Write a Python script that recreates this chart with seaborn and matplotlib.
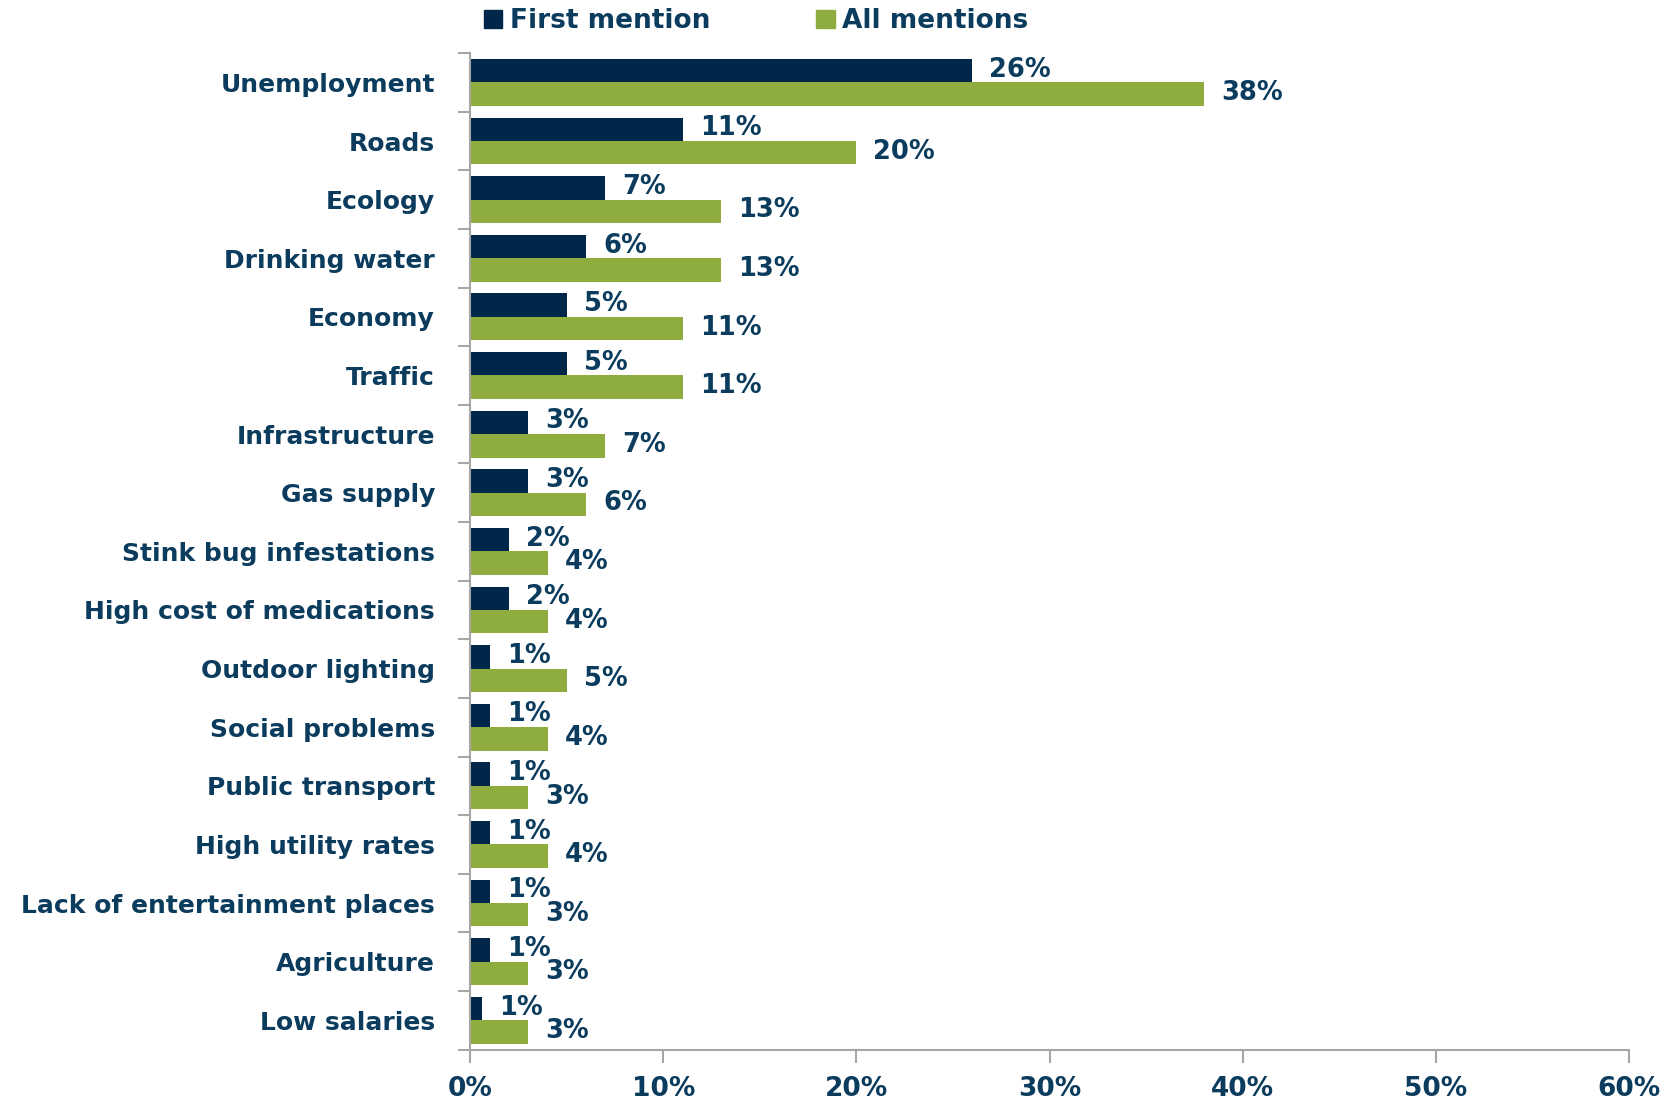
import numpy as np
import pandas as pd
import matplotlib.pyplot as plt
import seaborn as sns
from matplotlib.ticker import FixedLocator, PercentFormatter

categories = ["Unemployment", "Roads", "Ecology", "Drinking water", "Economy",
              "Traffic", "Infrastructure", "Gas supply", "Stink bug infestations",
              "High cost of medications", "Outdoor lighting", "Social problems",
              "Public transport", "High utility rates", "Lack of entertainment places",
              "Agriculture", "Low salaries"]
first_mention = [26, 11, 7, 6, 5, 5, 3, 3, 2, 2, 1, 1, 1, 1, 1, 1, 0.6]
all_mentions = [38, 20, 13, 13, 11, 11, 7, 6, 4, 4, 5, 4, 3, 4, 3, 3, 3]
series = ["First mention", "All mentions"]

TEXT = "#0B3C5D"
GREY = "#A6A6A6"
colors = {"First mention": "#002649", "All mentions": "#8FAD3F"}

df = pd.DataFrame({
    "issue": categories * 2,
    "series": [series[0]] * len(categories) + [series[1]] * len(categories),
    "value": first_mention + all_mentions,
})

sns.set_style("white")
plt.rcParams['font.family'] = ['DejaVu Sans']

fig = plt.figure(figsize=(16.62, 11.06), dpi=100)
ax = fig.add_axes([0.283, 0.051, 0.697, 0.901])

sns.barplot(data=df, y="issue", x="value", hue="series", palette=colors,
            order=categories, hue_order=series, width=0.8, orient="h",
            saturation=1, linewidth=0, ax=ax, legend=False)

# value labels
for cont in ax.containers:
    for bar in cont:
        w = bar.get_width()
        ax.annotate(f"{w:.0f}%", (w, bar.get_y() + bar.get_height() / 2),
                    xytext=(17, 1), textcoords="offset pixels",
                    ha="left", va="center", fontsize=18.5, fontweight="bold", color=TEXT)

ax.set_xlim(0, 60)
ax.set_ylim(len(categories) - 0.5, -0.5)
ax.xaxis.set_major_formatter(PercentFormatter(decimals=0))
ax.set_xticks(range(0, 61, 10))
ax.set_xlabel("")
ax.set_ylabel("")

for s in ["top", "right"]:
    ax.spines[s].set_visible(False)
for s in ["left", "bottom"]:
    ax.spines[s].set_color(GREY)
    ax.spines[s].set_linewidth(1.5)

ax.tick_params(axis="y", which="major", left=False, pad=22, labelsize=18, labelcolor=TEXT)
ax.yaxis.set_minor_locator(FixedLocator(np.arange(-0.5, len(categories), 1)))
ax.tick_params(axis="y", which="minor", left=True, length=9, width=1.5, color=GREY, direction="out")
ax.tick_params(axis="x", which="major", bottom=True, length=9, width=1.5, color=GREY,
               direction="out", pad=10, labelsize=19, labelcolor=TEXT)
for lab in ax.get_xticklabels() + ax.get_yticklabels():
    lab.set_fontweight("bold")

handles = [plt.Rectangle((0, 0), 1, 1, color=colors[s]) for s in series]
leg = fig.legend(handles, series, loc="upper center", bbox_to_anchor=(0.455, 1.014),
                 ncol=2, frameon=False, fontsize=19, handlelength=0.7, handleheight=0.7,
                 handletextpad=0.3, columnspacing=4.0)
for t in leg.get_texts():
    t.set_color(TEXT)
    t.set_fontweight("bold")

fig.savefig("out.png", dpi=100)
